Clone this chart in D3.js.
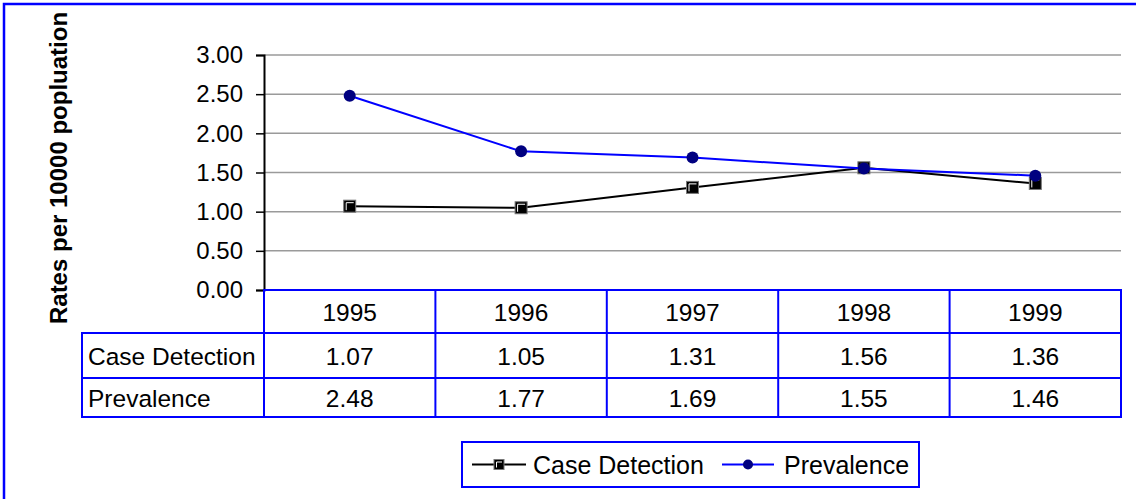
<!DOCTYPE html>
<html>
<head>
<meta charset="utf-8">
<script src="https://cdn.jsdelivr.net/npm/d3@7"></script>
<style>
  body { margin: 0; background: #fff; }
  svg text { font-family: "Liberation Sans", Arial, sans-serif; fill: #000; }
</style>
</head>
<body>
<div id="chart"></div>
<script>
// data
const years = ["1995", "1996", "1997", "1998", "1999"]
const caseDetection = [1.07, 1.05, 1.31, 1.56, 1.36]
const prevalence = [2.48, 1.77, 1.69, 1.55, 1.46]
const yTicks = [0, 0.5, 1, 1.5, 2, 2.5, 3]
const seriesNames = ["Case Detection", "Prevalence"]

const width = 1136, height = 499
const blue = "#0000ff", navy = "#000080"

const svg = d3.select("#chart").append("svg")
    .attr("viewBox", [0, 0, width, height])
    .attr("width", width)
    .attr("height", height)

// outer frame (right/bottom edges are off the picture)
svg.append("rect")
    .attr("x", 4).attr("y", 4)
    .attr("width", width + 10).attr("height", height + 10)
    .attr("fill", "none").attr("stroke", blue).attr("stroke-width", 2.5)

//scales
const plotLeft = 264, plotRight = 1121, plotTop = 55, plotBottom = 290
const x = d3.scaleBand().domain(years).range([plotLeft, plotRight])
const y = d3.scaleLinear().domain([0, 3]).range([plotBottom, plotTop])
const fontSize = 24.5

//gridlines
svg.append("g").selectAll("line").data(yTicks.filter(d => d > 0)).join("line")
    .attr("x1", plotLeft).attr("x2", plotRight)
    .attr("y1", d => y(d)).attr("y2", d => y(d))
    .attr("stroke", "#9a9a9a").attr("stroke-width", 1.5)

//y axis
const yAxis = svg.append("g")
    .attr("transform", `translate(${plotLeft},0)`)
    .call(d3.axisLeft(y).tickValues(yTicks).tickSize(8).tickPadding(13)
        .tickFormat(d3.format(".2f")))
yAxis.select(".domain").attr("stroke", "#000").attr("stroke-width", 2)
yAxis.selectAll(".tick line").attr("stroke", "#000").attr("stroke-width", 1.5)
yAxis.selectAll(".tick text")
    .attr("font-size", 24).attr("font-family", "Liberation Sans, Arial, sans-serif")
    .attr("fill", "#000")

//y axis title
svg.append("text")
    .attr("transform", `translate(67,168) rotate(-90)`)
    .attr("text-anchor", "middle")
    .attr("font-size", 24)
    .attr("font-weight", "bold")
    .text("Rates per 10000 popluation")

//data table
const tableLeft = 82
const rowEdges = [290, 333, 378, 417]
const table = svg.append("g")
const rows = [
    {label: null, values: years},
    {label: seriesNames[0], values: caseDetection.map(d => d.toFixed(2))},
    {label: seriesNames[1], values: prevalence.map(d => d.toFixed(2))}
]
rows.forEach((row, i) => {
    const y0 = rowEdges[i], y1 = rowEdges[i + 1]
    const left = row.label ? tableLeft : plotLeft
    table.append("rect")
        .attr("x", left).attr("y", y0)
        .attr("width", plotRight - left).attr("height", y1 - y0)
        .attr("fill", "none").attr("stroke", blue).attr("stroke-width", 2)
    years.forEach((yr, j) => {
        table.append("line")
            .attr("x1", x(yr)).attr("x2", x(yr))
            .attr("y1", y0).attr("y2", y1)
            .attr("stroke", blue).attr("stroke-width", 2)
        table.append("text")
            .attr("x", x(yr) + x.bandwidth() / 2)
            .attr("y", (y0 + y1) / 2 + 9)
            .attr("text-anchor", "middle")
            .attr("font-size", fontSize)
            .text(row.values[j])
    })
    if (row.label) {
        table.append("text")
            .attr("x", tableLeft + 6)
            .attr("y", (y0 + y1) / 2 + 9)
            .attr("font-size", fontSize)
            .text(row.label)
    }
})

//markers
const squareMarker = (g, cx, cy, s) => {
    g.append("rect")
        .attr("x", cx - s / 2).attr("y", cy - s / 2)
        .attr("width", s).attr("height", s)
        .attr("fill", "#000").attr("stroke", "#777").attr("stroke-width", 1)
    g.append("polyline")
        .attr("points", `${cx - s / 2 + 2.5},${cy + s / 2 - 2} ${cx - s / 2 + 2.5},${cy - s / 2 + 2.5} ${cx + s / 2 - 2},${cy - s / 2 + 2.5}`)
        .attr("fill", "none").attr("stroke", "#fff").attr("stroke-width", 1)
}
const circleMarker = (g, cx, cy, r) => {
    g.append("circle").attr("cx", cx).attr("cy", cy).attr("r", r).attr("fill", navy)
}

//lines
const cx = yr => x(yr) + x.bandwidth() / 2
const line = d3.line().x((d, i) => cx(years[i])).y(d => y(d))

svg.append("path").datum(caseDetection)
    .attr("fill", "none").attr("stroke", "#000").attr("stroke-width", 2)
    .attr("d", line)
caseDetection.forEach((d, i) => squareMarker(svg, cx(years[i]), y(d), 12))

svg.append("path").datum(prevalence)
    .attr("fill", "none").attr("stroke", blue).attr("stroke-width", 2)
    .attr("d", line)
prevalence.forEach((d, i) => circleMarker(svg, cx(years[i]), y(d), 6))

//legend
const legend = svg.append("g")
legend.append("rect")
    .attr("x", 462).attr("y", 442).attr("width", 457).attr("height", 45)
    .attr("fill", "none").attr("stroke", blue).attr("stroke-width", 2)
const ly = 464.5
legend.append("line").attr("x1", 472).attr("x2", 526).attr("y1", ly).attr("y2", ly)
    .attr("stroke", "#000").attr("stroke-width", 2)
squareMarker(legend, 499, ly, 10)
legend.append("text").attr("x", 533).attr("y", ly + 9).attr("font-size", 25)
    .text(seriesNames[0])
legend.append("line").attr("x1", 722).attr("x2", 774).attr("y1", ly).attr("y2", ly)
    .attr("stroke", blue).attr("stroke-width", 2)
circleMarker(legend, 748, ly, 5)
legend.append("text").attr("x", 784).attr("y", ly + 9).attr("font-size", 25)
    .text(seriesNames[1])
</script>
</body>
</html>
